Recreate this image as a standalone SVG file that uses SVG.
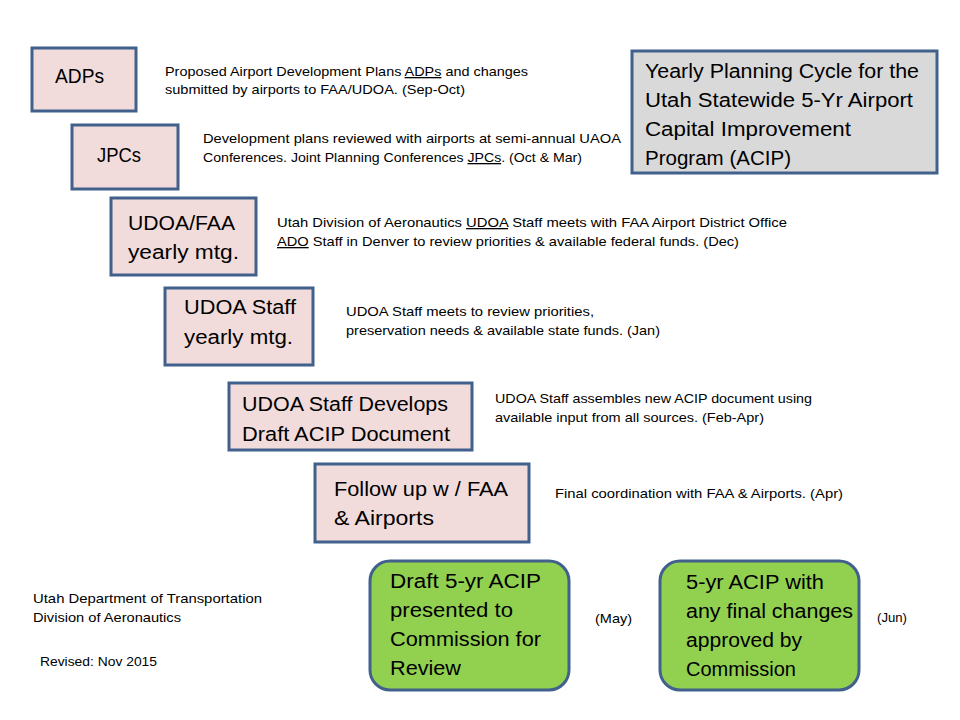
<svg xmlns="http://www.w3.org/2000/svg" width="960" height="720" viewBox="0 0 960 720">
<style>
.box{fill:#f2dcdb;stroke:#41618c;stroke-width:3}
.title{fill:#d9d9d9;stroke:#41618c;stroke-width:3}
.green{fill:#92d050;stroke:#41618c;stroke-width:3}
text{font-family:"Liberation Sans",Arial,sans-serif;fill:#000}
.big{font-size:20px}
.sm{font-size:13px}
.u{text-decoration:underline}
</style>
<rect width="960" height="720" fill="#fff"/>
<g id="connectors"></g>
<g id="title">
<rect class="title" x="632" y="51" width="305" height="122"/>
<text class="big" x="645" y="78" textLength="274" lengthAdjust="spacingAndGlyphs">Yearly Planning Cycle for the</text>
<text class="big" x="645" y="107" textLength="268" lengthAdjust="spacingAndGlyphs">Utah Statewide 5-Yr Airport</text>
<text class="big" x="645" y="136" textLength="206" lengthAdjust="spacingAndGlyphs">Capital Improvement</text>
<text class="big" x="645" y="165" textLength="146" lengthAdjust="spacingAndGlyphs">Program (ACIP)</text>
</g>
<g id="adps">
<rect class="box" x="32" y="48" width="104" height="63"/>
<text class="big" x="55" y="83" textLength="49" lengthAdjust="spacingAndGlyphs">ADPs</text>
</g>
<text class="sm" x="165" y="76" textLength="363" lengthAdjust="spacingAndGlyphs">Proposed Airport Development Plans <tspan class="u">ADPs</tspan> and changes</text>
<text class="sm" x="165" y="94" textLength="300" lengthAdjust="spacingAndGlyphs">submitted by airports to FAA/UDOA. (Sep-Oct)</text>
<g id="jpcs">
<rect class="box" x="72" y="125" width="106" height="64"/>
<text class="big" x="97" y="162" textLength="44" lengthAdjust="spacingAndGlyphs">JPCs</text>
</g>
<text class="sm" x="203" y="143" textLength="418" lengthAdjust="spacingAndGlyphs">Development plans reviewed with airports at semi-annual UAOA</text>
<text class="sm" x="203" y="162" textLength="379" lengthAdjust="spacingAndGlyphs">Conferences. Joint Planning Conferences <tspan class="u">JPCs</tspan>. (Oct &amp; Mar)</text>
<g id="udoa-faa">
<rect class="box" x="111" y="198" width="145" height="77"/>
<text class="big" x="128" y="230" textLength="107" lengthAdjust="spacingAndGlyphs">UDOA/FAA</text>
<text class="big" x="128" y="259" textLength="111" lengthAdjust="spacingAndGlyphs">yearly mtg.</text>
</g>
<text class="sm" x="277" y="227" textLength="510" lengthAdjust="spacingAndGlyphs">Utah Division of Aeronautics <tspan class="u">UDOA</tspan> Staff meets with FAA Airport District Office</text>
<text class="sm" x="277" y="246" textLength="462" lengthAdjust="spacingAndGlyphs"><tspan class="u">ADO</tspan> Staff in Denver to review priorities &amp; available federal funds. (Dec)</text>
<g id="udoa-staff">
<rect class="box" x="165" y="288" width="148" height="77"/>
<text class="big" x="184" y="314" textLength="112" lengthAdjust="spacingAndGlyphs">UDOA Staff</text>
<text class="big" x="184" y="344" textLength="109" lengthAdjust="spacingAndGlyphs">yearly mtg.</text>
</g>
<text class="sm" x="346" y="316" textLength="248" lengthAdjust="spacingAndGlyphs">UDOA Staff meets to review priorities,</text>
<text class="sm" x="346" y="335" textLength="314" lengthAdjust="spacingAndGlyphs">preservation needs &amp; available state funds. (Jan)</text>
<g id="draft">
<rect class="box" x="229" y="383" width="243" height="67"/>
<text class="big" x="242" y="411" textLength="206" lengthAdjust="spacingAndGlyphs">UDOA Staff Develops</text>
<text class="big" x="242" y="441" textLength="208" lengthAdjust="spacingAndGlyphs">Draft ACIP Document</text>
</g>
<text class="sm" x="495" y="403" textLength="317" lengthAdjust="spacingAndGlyphs">UDOA Staff assembles new ACIP document using</text>
<text class="sm" x="495" y="422" textLength="269" lengthAdjust="spacingAndGlyphs">available input from all sources. (Feb-Apr)</text>
<g id="followup">
<rect class="box" x="315" y="464" width="214" height="78"/>
<text class="big" x="334" y="496" textLength="174" lengthAdjust="spacingAndGlyphs">Follow up w / FAA</text>
<text class="big" x="334" y="525" textLength="100" lengthAdjust="spacingAndGlyphs">&amp; Airports</text>
</g>
<text class="sm" x="555" y="498" textLength="288" lengthAdjust="spacingAndGlyphs">Final coordination with FAA &amp; Airports. (Apr)</text>
<g id="commission-review">
<rect class="green" x="370" y="561" width="199" height="129" rx="20" ry="20"/>
<text class="big" x="390" y="588" textLength="151" lengthAdjust="spacingAndGlyphs">Draft 5-yr ACIP</text>
<text class="big" x="390" y="617" textLength="123" lengthAdjust="spacingAndGlyphs">presented to</text>
<text class="big" x="390" y="646" textLength="151" lengthAdjust="spacingAndGlyphs">Commission for</text>
<text class="big" x="390" y="675" textLength="71" lengthAdjust="spacingAndGlyphs">Review</text>
</g>
<text class="sm" x="595" y="623" textLength="37" lengthAdjust="spacingAndGlyphs">(May)</text>
<g id="commission-approval">
<rect class="green" x="660" y="561" width="199" height="129" rx="20" ry="20"/>
<text class="big" x="686" y="589" textLength="138" lengthAdjust="spacingAndGlyphs">5-yr ACIP with</text>
<text class="big" x="686" y="618" textLength="167" lengthAdjust="spacingAndGlyphs">any final changes</text>
<text class="big" x="686" y="647" textLength="116" lengthAdjust="spacingAndGlyphs">approved by</text>
<text class="big" x="686" y="676" textLength="110" lengthAdjust="spacingAndGlyphs">Commission</text>
</g>
<text class="sm" x="877" y="622" textLength="30" lengthAdjust="spacingAndGlyphs">(Jun)</text>
<text class="sm" x="33" y="603" textLength="229" lengthAdjust="spacingAndGlyphs">Utah Department of Transportation</text>
<text class="sm" x="33" y="622" textLength="148" lengthAdjust="spacingAndGlyphs">Division of Aeronautics</text>
<text class="sm" x="40" y="666" textLength="117" lengthAdjust="spacingAndGlyphs">Revised: Nov 2015</text>
</svg>
